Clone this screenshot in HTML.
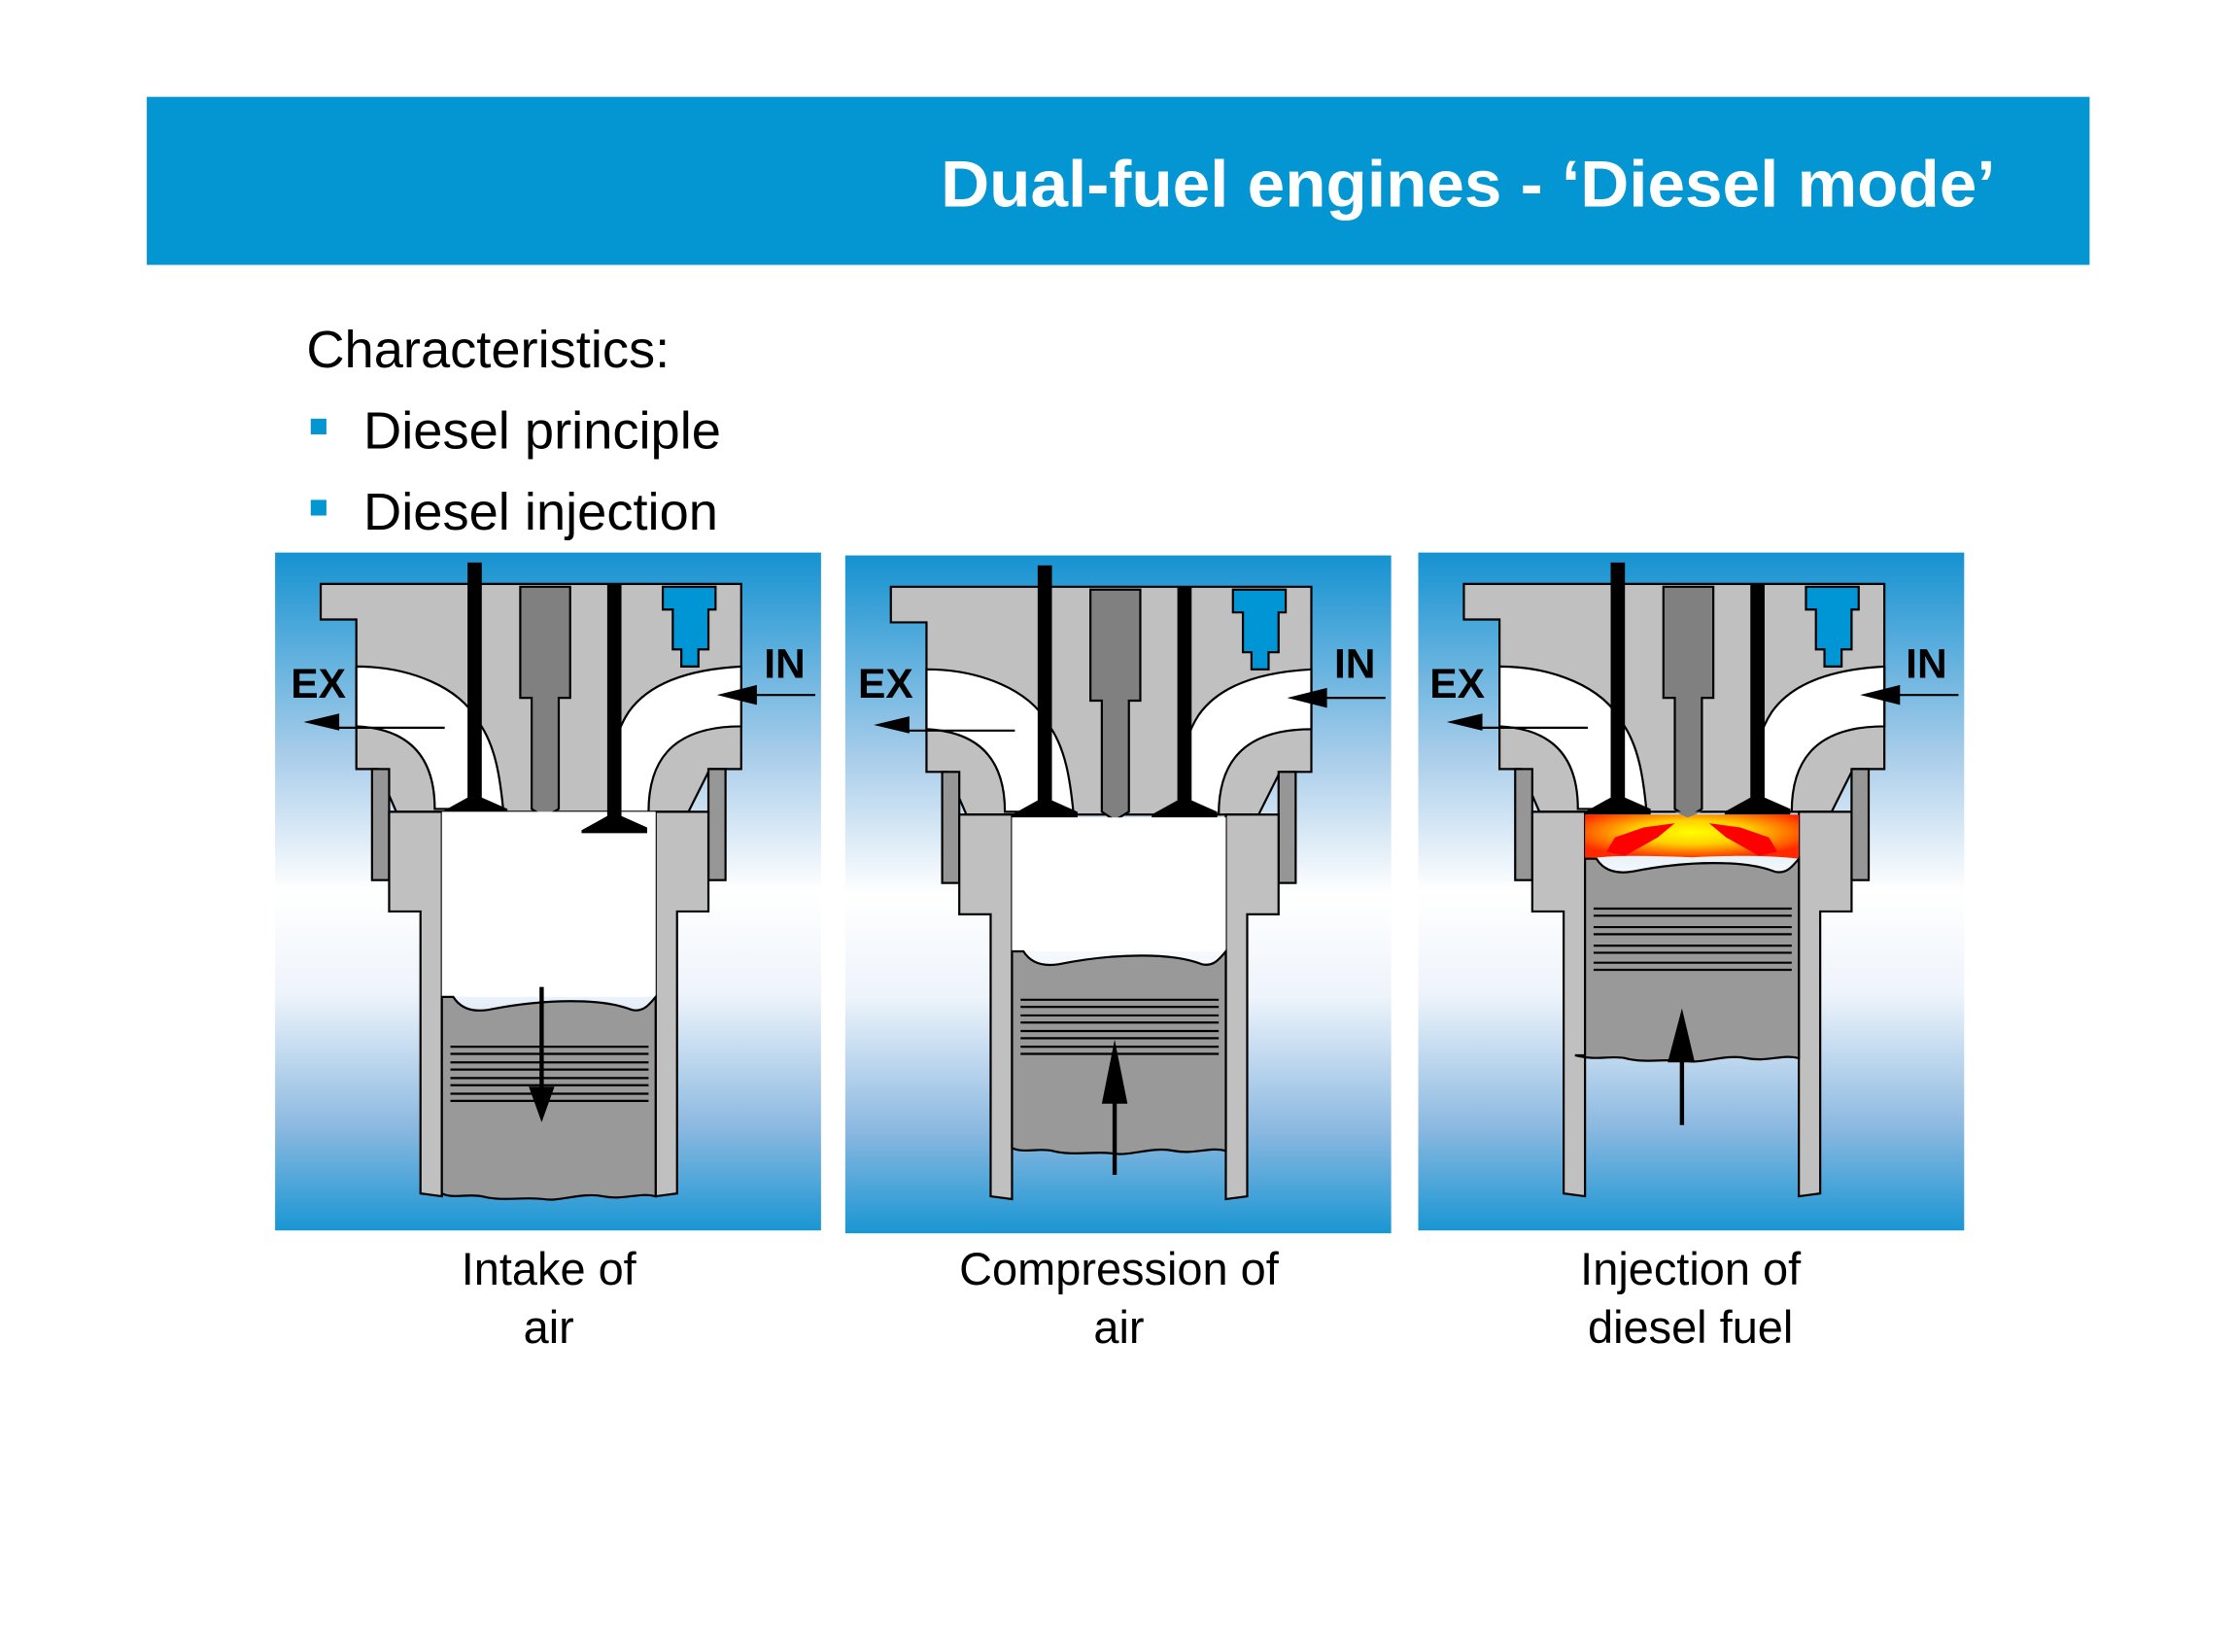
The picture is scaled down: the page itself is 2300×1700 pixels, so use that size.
<!DOCTYPE html>
<html><head><meta charset="utf-8"><style>
html,body{margin:0;padding:0;background:#fff;}
svg{display:block;}
</style></head><body>
<svg width="2300" height="1700" viewBox="0 0 1568 1160" preserveAspectRatio="none" xmlns="http://www.w3.org/2000/svg">
<defs>
<linearGradient id="bg" x1="0" y1="0" x2="0" y2="1">
<stop offset="0" stop-color="#1592d1"/>
<stop offset="0.3" stop-color="#a9cdea"/>
<stop offset="0.5" stop-color="#ffffff"/>
<stop offset="0.65" stop-color="#eef4fb"/>
<stop offset="0.85" stop-color="#8ab8e0"/>
<stop offset="1" stop-color="#1a96d3"/>
</linearGradient>
<radialGradient id="fl" cx="0.5" cy="0.4" r="0.6">
<stop offset="0" stop-color="#ffff00"/>
<stop offset="0.45" stop-color="#ffd000"/>
<stop offset="1" stop-color="#ff2a00"/>
</radialGradient>
<g id="base">
<rect x="0" y="0" width="383" height="476" fill="url(#bg)"/>
<path d="M32,22 H327 V152 H305 L290,182 H85 L72,152 H57 V47 H32 Z" fill="#c0c0c0" stroke="#000" stroke-width="1.5"/>
<path d="M57,80 C95,80 130,95 142,118 C155,135 158,160 160,180 L112,180 C112,150 100,124 57,122 Z" fill="#fff" stroke="#000" stroke-width="1.5"/>
<path d="M327,80 C290,82 262,92 248,112 C236,130 232,160 235,182 L262,182 C262,150 275,122 327,122 Z" fill="#fff" stroke="#000" stroke-width="1.5"/>
<path d="M172,24 H207 V102 H199 V180 L189,186 L180,180 V102 H172 Z" fill="#808080" stroke="#000" stroke-width="1.5"/>
<path d="M272,24 H309 V40 H304 V68 H297 V80 H285 V68 H279 V40 H272 Z" fill="#0096d6" stroke="#000" stroke-width="1.5"/>
<rect x="68" y="152" width="12" height="78" fill="#969696" stroke="#000" stroke-width="1.5"/>
<rect x="304" y="152" width="12" height="78" fill="#969696" stroke="#000" stroke-width="1.5"/>
<path d="M80,182 H117 V452 L102,450 V252 H80 Z" fill="#c0c0c0" stroke="#000" stroke-width="1.5"/>
<path d="M267,182 H304 V252 H282 V450 L267,452 Z" fill="#c0c0c0" stroke="#000" stroke-width="1.5"/>
<rect x="135" y="7" width="10" height="170" fill="#000"/>
<path d="M117,182 L135,172 H145 L163,180 V184 H117 Z" fill="#000"/>
</g>
<g id="inclosed">
<rect x="233" y="22" width="10" height="155" fill="#000"/>
<path d="M215,182 L233,172 H243 L261,180 V184 H215 Z" fill="#000"/>
</g>
<g id="arrows">
<line x1="119" y1="123" x2="40" y2="123" stroke="#000" stroke-width="1.5"/>
<path d="M20,119 L45,113 V125 Z" fill="#000"/>
<line x1="379" y1="100" x2="330" y2="100" stroke="#000" stroke-width="1.5"/>
<path d="M310,100 L338,93 V107 Z" fill="#000"/>
</g>
</defs>

<rect x="103" y="68" width="1363" height="118" fill="#0396d3"/>
<text x="1400" y="145" text-anchor="end" font-family="Liberation Sans, sans-serif" font-weight="bold" font-size="46" fill="#fff" textLength="740" lengthAdjust="spacingAndGlyphs">Dual-fuel engines - ‘Diesel mode’</text>
<text x="215" y="258" font-family="Liberation Sans, sans-serif" font-size="37" fill="#000">Characteristics:</text>
<rect x="218" y="294" width="11" height="11" fill="#0396d3"/>
<text x="255" y="315" font-family="Liberation Sans, sans-serif" font-size="37" fill="#000">Diesel principle</text>
<rect x="218" y="351" width="11" height="11" fill="#0396d3"/>
<text x="255" y="372" font-family="Liberation Sans, sans-serif" font-size="37" fill="#000">Diesel injection</text>

<!-- Panel 1 -->
<g transform="translate(193,388)">
<use href="#base"/>
<rect x="117" y="182" width="150" height="130" fill="#fff"/>
<path d="M117,312 H125 C130,320 138,323 150,321 C190,313 230,313 250,321 C258,323 262,318 267,312 V452 C255,449 245,455 230,452 C215,449 200,456 188,454 C175,452 160,456 145,452 C135,450 125,454 117,450 Z" fill="#999" stroke="#000" stroke-width="1.5"/>
<g stroke="#000" stroke-width="1.5"><line x1="123" y1="347" x2="262" y2="347"/><line x1="123" y1="352" x2="262" y2="352"/><line x1="123" y1="358" x2="262" y2="358"/><line x1="123" y1="363" x2="262" y2="363"/><line x1="123" y1="369" x2="262" y2="369"/><line x1="123" y1="374" x2="262" y2="374"/><line x1="123" y1="380" x2="262" y2="380"/><line x1="123" y1="385" x2="262" y2="385"/></g>
<rect x="233" y="22" width="10" height="168" fill="#000"/>
<path d="M215,195 L233,185 H243 L261,193 V197 H215 Z" fill="#000"/>
<line x1="187" y1="305" x2="187" y2="380" stroke="#000" stroke-width="3"/>
<path d="M178,375 H196 L187,400 Z" fill="#000"/>
<use href="#arrows"/>
</g>
<!-- Panel 2 -->
<g transform="translate(593,390)">
<use href="#base"/>
<use href="#inclosed"/>
<rect x="117" y="184" width="150" height="94" fill="#fff"/>
<path d="M117,278 H125 C130,286 138,289 150,287 C190,279 230,279 250,287 C258,289 262,284 267,278 V418 C255,415 245,421 230,418 C215,415 200,422 188,420 C175,418 160,422 145,418 C135,416 125,420 117,416 Z" fill="#999" stroke="#000" stroke-width="1.5"/>
<g stroke="#000" stroke-width="1.5"><line x1="123" y1="312" x2="262" y2="312"/><line x1="123" y1="317" x2="262" y2="317"/><line x1="123" y1="323" x2="262" y2="323"/><line x1="123" y1="328" x2="262" y2="328"/><line x1="123" y1="334" x2="262" y2="334"/><line x1="123" y1="339" x2="262" y2="339"/><line x1="123" y1="345" x2="262" y2="345"/><line x1="123" y1="350" x2="262" y2="350"/></g>
<line x1="189" y1="435" x2="189" y2="360" stroke="#000" stroke-width="3"/>
<path d="M180,385 H198 L189,340 Z" fill="#000"/>
<use href="#arrows"/>
</g>
<!-- Panel 3 -->
<g transform="translate(995,388)">
<use href="#base"/>
<use href="#inclosed"/>
<path d="M117,184 H267 V215 C240,212 215,213 192,214 C165,213 140,212 117,215 Z" fill="url(#fl)"/>
<path d="M132,210 L138,200 L158,193 L180,190 L168,200 L145,213 Z" fill="#ff0000"/>
<path d="M252,210 L246,200 L226,193 L204,190 L216,200 L239,213 Z" fill="#ff0000"/>
<path d="M189,186 L180,182 H199 Z" fill="#808080"/>
<path d="M117,215 H125 C130,223 138,226 150,224 C190,216 230,216 250,224 C258,226 262,221 267,215 V355 C255,352 245,358 230,355 C215,352 200,359 188,357 C175,355 160,359 145,355 C135,353 125,357 110,353 L117,353 Z" fill="#999" stroke="#000" stroke-width="1.5"/>
<g stroke="#000" stroke-width="1.5"><line x1="123" y1="250" x2="262" y2="250"/><line x1="123" y1="255" x2="262" y2="255"/><line x1="123" y1="263" x2="262" y2="263"/><line x1="123" y1="268" x2="262" y2="268"/><line x1="123" y1="276" x2="262" y2="276"/><line x1="123" y1="281" x2="262" y2="281"/><line x1="123" y1="288" x2="262" y2="288"/><line x1="123" y1="293" x2="262" y2="293"/></g>
<line x1="185" y1="402" x2="185" y2="345" stroke="#000" stroke-width="3"/>
<path d="M175,358 H194 L185,320 Z" fill="#000"/>
<use href="#arrows"/>
</g>

<g font-family="Liberation Sans, sans-serif" font-weight="bold" font-size="29" fill="#000">
<text x="204" y="490">EX</text><text x="536" y="476">IN</text>
<text x="602" y="490">EX</text><text x="936" y="476">IN</text>
<text x="1003" y="490">EX</text><text x="1337" y="476">IN</text>
</g>
<g font-family="Liberation Sans, sans-serif" font-size="32" fill="#000" text-anchor="middle">
<text x="385" y="902">Intake of</text><text x="385" y="943">air</text>
<text x="785" y="902">Compression of</text><text x="785" y="943">air</text>
<text x="1186" y="902">Injection of</text><text x="1186" y="943">diesel fuel</text>
</g>
</svg>
</body></html>
